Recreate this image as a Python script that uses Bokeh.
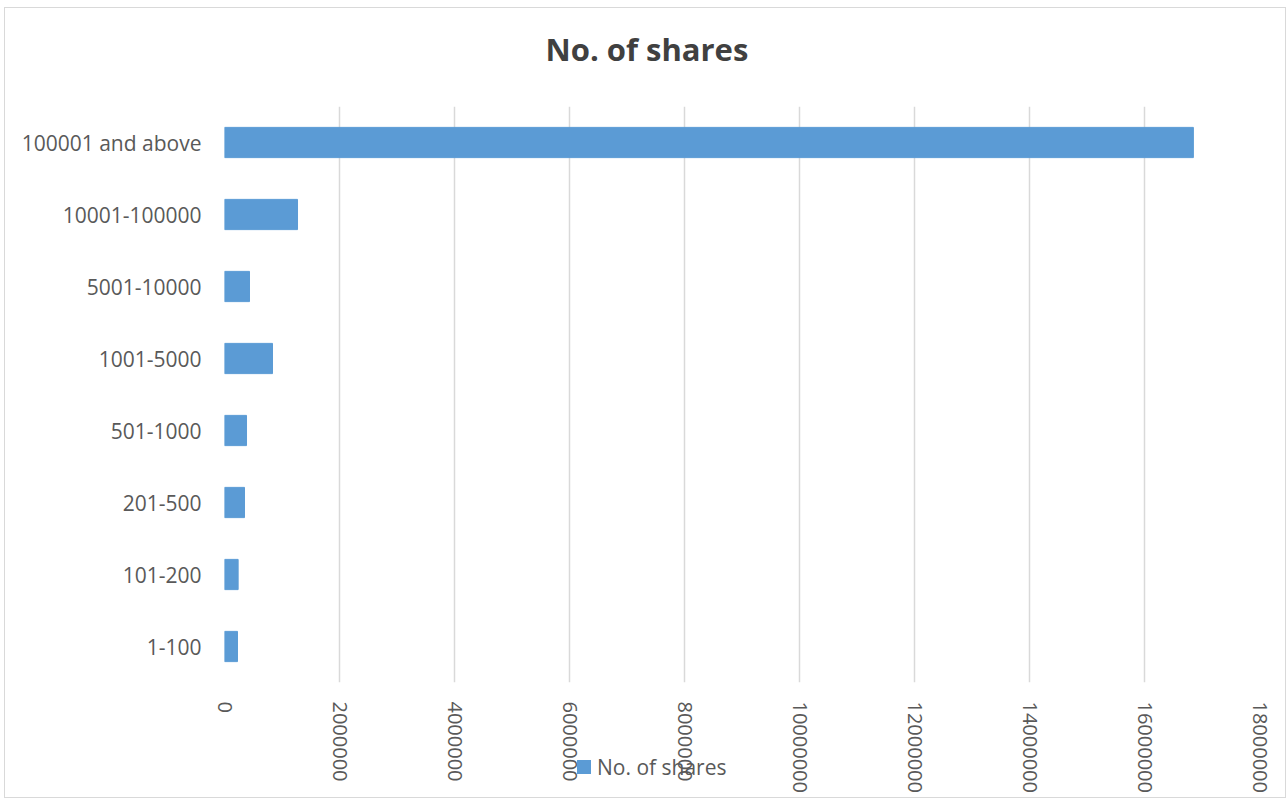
from bokeh.plotting import figure
from bokeh.layouts import column
from bokeh.models import Range1d, FactorRange, FixedTicker, BasicTickFormatter, Title, Div
from bokeh.embed import file_html
from bokeh.resources import INLINE

categories = ["1-100", "101-200", "201-500", "501-1000", "1001-5000",
              "5001-10000", "10001-100000", "100001 and above"]
shares = [226000, 237000, 348000, 383000, 835000, 435000, 1270000, 16850000]
x_ticks = [0, 2000000, 4000000, 6000000, 8000000, 10000000, 12000000,
           14000000, 16000000, 18000000]
series_name = "No. of shares"

FONT = "Open Sans"
TXT = "#595959"
BAR = "#5b9bd5"

p = figure(width=1282, height=791, output_backend="svg", toolbar_location=None,
           title=None,
           y_range=FactorRange(*categories), x_range=Range1d(0, 18000000),
           min_border_left=219, min_border_right=28, min_border_top=98,
           min_border_bottom=117)
p.styles = {"border": "1px solid #d9d9d9", "margin-left": "4px", "margin-top": "7px"}
p.outline_line_color = None
p.background_fill_color = "white"
p.border_fill_color = "white"

r = p.hbar(y=categories, right=shares, left=0, height=0.42,
           fill_color=BAR, line_color=BAR)
p.y_range.range_padding = 0

spacer = Title(text=" ", text_font_size="1px", standoff=34)
p.add_layout(spacer, "above")
title = Title(text="No. of shares", align="left", offset=321,
              text_font=FONT, text_font_size="31px", text_font_style="bold",
              text_color="#404040", standoff=0)
p.add_layout(title, "above")

p.xaxis.ticker = FixedTicker(ticks=x_ticks)
p.xaxis.formatter = BasicTickFormatter(use_scientific=False)
p.xaxis.major_label_orientation = "vertical"
for ax in (p.xaxis, p.yaxis):
    ax.axis_line_color = None
    ax.major_tick_line_color = None
    ax.minor_tick_line_color = None
    ax.major_tick_out = 0
    ax.major_tick_in = 0
    ax.major_label_text_font = FONT
    ax.major_label_text_color = TXT
p.xaxis.major_label_text_font_size = "20px"
p.yaxis.major_label_text_font_size = "21px"
p.xaxis.major_label_standoff = 19
p.yaxis.major_label_standoff = 23

p.xgrid.grid_line_color = "#d9d9d9"
p.xgrid.grid_line_width = 1.5
p.ygrid.grid_line_color = None

# Excel-style legend that overlaps the tick labels
legend_html = (
    '<div style="display:flex;align-items:center;font-family:\'Open Sans\';'
    'font-size:21px;line-height:28px;color:%s;white-space:nowrap">'
    '<span style="display:inline-block;width:14px;height:14px;background:%s;'
    'margin-right:6px"></span>%s</div>' % (TXT, BAR, series_name)
)
legend_div = Div(text=legend_html, width=180, height=28,
                 styles={"position": "absolute", "left": "572px", "top": "748px"})

layout = column(p, legend_div, spacing=0)
open("out.html", "w").write(file_html(layout, INLINE))
